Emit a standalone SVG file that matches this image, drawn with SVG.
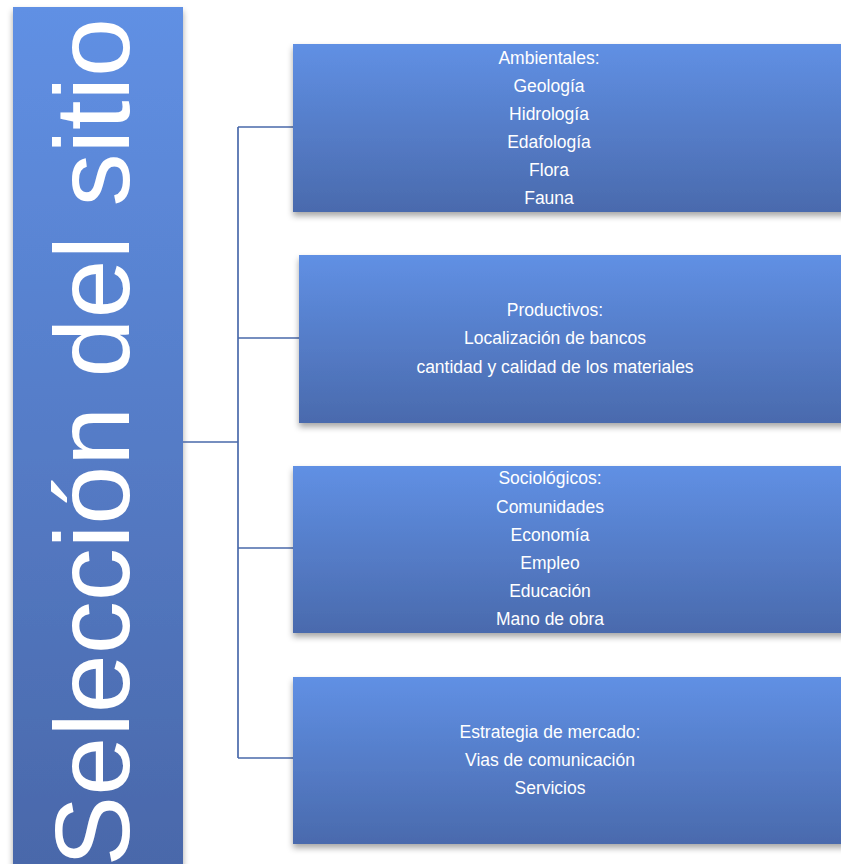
<svg xmlns="http://www.w3.org/2000/svg" width="841" height="864" viewBox="0 0 841 864">
<defs>
<linearGradient id="g" x1="0" y1="0" x2="0" y2="1">
<stop offset="0" stop-color="#6090e4"/>
<stop offset="1" stop-color="#4a6aad"/>
</linearGradient>
<linearGradient id="gb" gradientUnits="userSpaceOnUse" x1="0" y1="7" x2="0" y2="864">
<stop offset="0" stop-color="#6090e4"/>
<stop offset="1" stop-color="#4a68aa"/>
</linearGradient>
<filter id="sh" x="-10%" y="-10%" width="130%" height="140%">
<feDropShadow dx="0" dy="4" stdDeviation="3" flood-color="#000" flood-opacity="0.35"/>
</filter>
</defs>
<style>
.box{fill:url(#g);filter:url(#sh)}
.t{font-family:"Liberation Sans",Arial,sans-serif;font-size:17.5px;fill:#fff;text-anchor:middle}
.big{font-family:"Liberation Sans",Arial,sans-serif;font-size:106px;fill:#fff;text-anchor:end}
.c{fill:none;stroke:#4a6aab;stroke-width:1.7}
</style>
<rect width="841" height="864" fill="#fff"/>
<g id="root">
<rect x="13" y="7" width="170" height="870" fill="url(#gb)" filter="url(#sh)"/>
<text class="big" transform="translate(129,18) rotate(-90)">Selección del sitio</text>
</g>
<g id="connectors">
<path class="c" d="M183,442H238M238,127V758M238,127H293M238,338H299M238,548H293M238,758H293"/>
</g>
<g id="n1">
<rect class="box" x="293" y="44" width="560" height="168"/>
<text class="t" x="549" y="64">Ambientales:</text>
<text class="t" x="549" y="92">Geología</text>
<text class="t" x="549" y="120">Hidrología</text>
<text class="t" x="549" y="148">Edafología</text>
<text class="t" x="549" y="176">Flora</text>
<text class="t" x="549" y="204">Fauna</text>
</g>
<g id="n2">
<rect class="box" x="299" y="255" width="560" height="168"/>
<text class="t" x="555" y="316">Productivos:</text>
<text class="t" x="555" y="344">Localización de bancos</text>
<text class="t" x="555" y="373">cantidad y calidad de los materiales</text>
</g>
<g id="n3">
<rect class="box" x="293" y="466" width="560" height="167"/>
<text class="t" x="550" y="484">Sociológicos:</text>
<text class="t" x="550" y="513">Comunidades</text>
<text class="t" x="550" y="541">Economía</text>
<text class="t" x="550" y="569">Empleo</text>
<text class="t" x="550" y="597">Educación</text>
<text class="t" x="550" y="625">Mano de obra</text>
</g>
<g id="n4">
<rect class="box" x="293" y="677" width="560" height="167"/>
<text class="t" x="550" y="738">Estrategia de mercado:</text>
<text class="t" x="550" y="766">Vias de comunicación</text>
<text class="t" x="550" y="794">Servicios</text>
</g>
</svg>
